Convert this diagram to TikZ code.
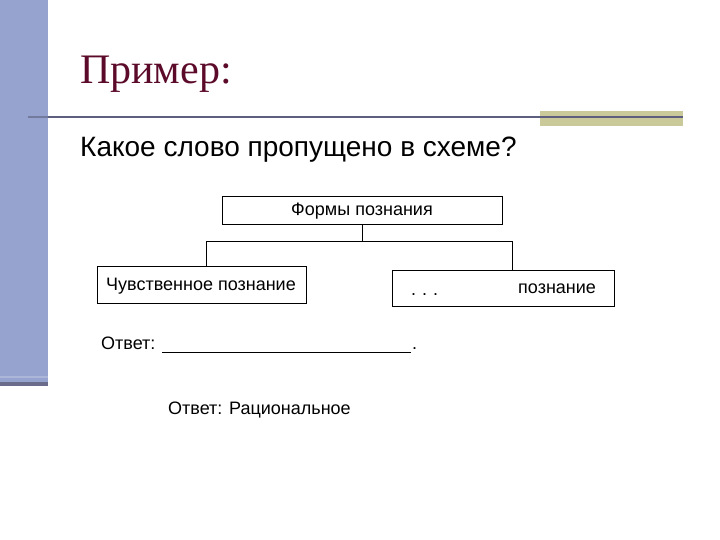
\documentclass[tikz,border=0pt]{standalone}
\usepackage{fontspec}
\setmainfont{Liberation Sans}
\newfontfamily\serifface{Liberation Serif}
\definecolor{barblue}{HTML}{95A3CE}
\definecolor{bargray}{HTML}{6B6B8B}
\definecolor{barlight}{HTML}{ABB6D8}
\definecolor{rulegray}{HTML}{5E5E7E}
\definecolor{olive}{HTML}{C9C999}
\definecolor{maroon}{HTML}{5C0A2A}
\tikzset{
  box/.style={draw=black, line width=0.9pt, rectangle, inner sep=0pt, anchor=north west},
  txt/.style={inner sep=0pt, font=\fontsize{18}{21}\selectfont},
  conn/.style={draw=black, line width=0.9pt},
}
\begin{document}
\begin{tikzpicture}[x=1pt,y=-1pt]
\useasboundingbox (0,0) rectangle (720,540);
\fill[white] (0,0) rectangle (720,540);
% left bar
\fill[barblue] (0,0) rectangle (48,382);
\fill[barlight] (0,376) rectangle (48,378);
\fill[bargray] (0,382) rectangle (48,386);
% header rule
\fill[olive] (540,111) rectangle (683,126);
\draw[rulegray!60!barblue, line width=2pt] (28,117) -- (48,117);
\draw[rulegray, line width=2pt] (48,117) -- (683,117);
% title
\node[anchor=base west, inner sep=0pt, text=maroon, font=\serifface\fontsize{42}{48}\selectfont] (title) at (80,84) {Пример:};
\node[anchor=base west, inner sep=0pt, font=\fontsize{28}{32}\selectfont] (question) at (80,157) {Какое слово пропущено в схеме?};
% boxes
\node[box, minimum width=280pt, minimum height=28pt] (top) at (222,196) {};
\node[txt] (toptxt) at (362,211) {Формы познания};
\node[box, minimum width=209pt, minimum height=37pt] (lb) at (97,266) {};
\node[txt] (lbtxt) at (201,286) {Чувственное познание};
\node[box, minimum width=222pt, minimum height=36pt] (rb) at (392,270) {};
\node[txt, anchor=base west] (dots) at (411,295) {.\hspace{6pt}.\hspace{6pt}.};
\node[txt, anchor=west] (pz) at (518,289) {познание};
% connectors
\coordinate (jl) at (206,241);
\coordinate (jr) at (512,241);
\draw[conn] (top.south) -- (top.south |- jl);
\draw[conn] (lb.north -| jl) -- (jl) -- (jr) -- (rb.north -| jr);
% answer line
\node[txt, anchor=base west] (ans) at (101,349) {Ответ:};
\coordinate (u1) at (162,352);
\coordinate (u2) at (411,352);
\draw[black, line width=0.9pt] (u1) -- (u2);
\node[txt, anchor=base west] (dot) at (412,349) {.};
\node[txt, anchor=base west] (ans2) at (168,414) {Ответ: Рациональное};
\end{tikzpicture}
\end{document}
